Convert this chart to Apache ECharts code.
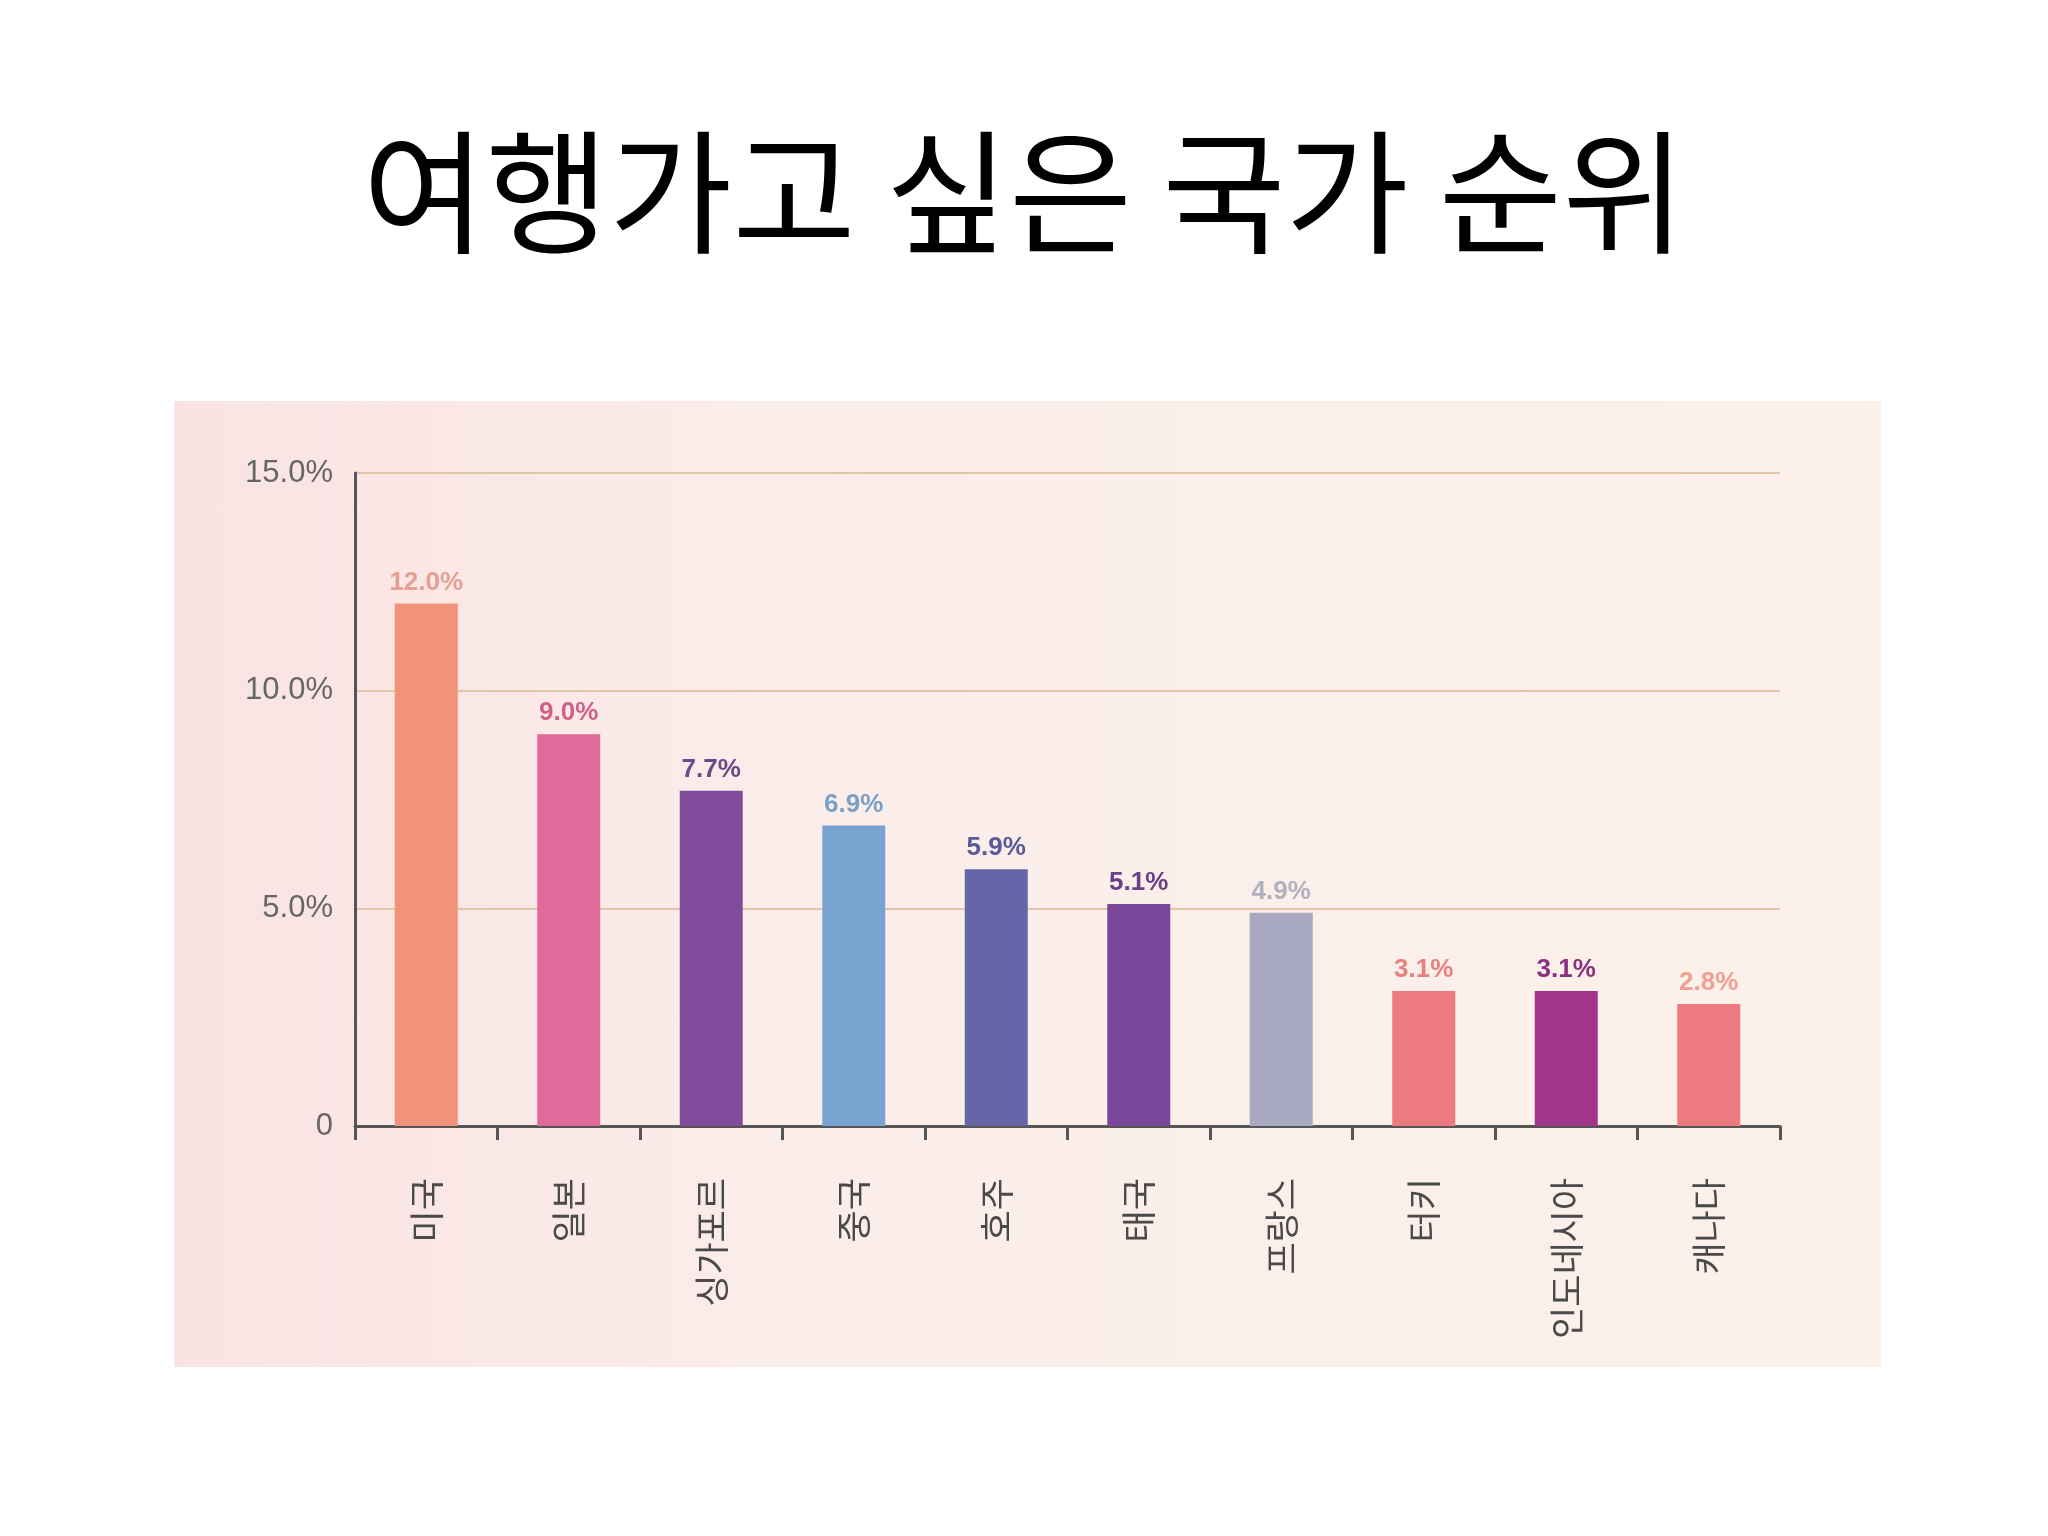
<!DOCTYPE html>
<html>
<head>
<meta charset="utf-8">
<script src="https://cdn.jsdelivr.net/npm/echarts@6/dist/echarts.min.js"></script>
<style>
html,body{margin:0;padding:0;background:#fff;}
#title{position:absolute;left:0;top:88px;width:2048px;text-align:center;font:134px "Noto Sans CJK KR",sans-serif;color:#000;}
#panel{position:absolute;left:174px;top:401px;width:1707px;height:966px;
 background:linear-gradient(90deg,#f9e3e3 0%,#fbeeea 40%,#fbf0ea 100%);}
#main{position:absolute;left:0;top:0;width:2048px;height:1536px;}
</style>
</head>
<body>
<div id="title">여행가고 싶은 국가 순위</div>
<div id="panel"></div>
<div id="main"></div>
<script>
var countries = ['미국','일본','싱가포르','중국','호주','태국','프랑스','터키','인도네시아','캐나다'];
var shares = [12.0, 9.0, 7.7, 6.9, 5.9, 5.1, 4.9, 3.1, 3.1, 2.8];
var barColors = ['#f0937a','#e06b9a','#7f4b9a','#78a3d0','#6565a8','#7a479a','#a8a8c0','#ec7a80','#a0358a','#ec7a80'];
var labelColors = ['#e4a090','#d0608a','#6a4a8a','#7aa0c8','#5a5a98','#6a3f8a','#b0b0c0','#e88080','#8a3080','#f0a090'];
var yTicks = [0, 5, 10, 15];

var myChart = echarts.init(document.getElementById('main'));
var option = {
	grid: {left: 355, right: 268, top: 473, bottom: 410},
	xAxis: {
		type: 'category',
		data: countries,
		axisLine: {lineStyle: {color: '#555', width: 3}},
		axisTick: {show: true, length: 14, lineStyle: {color: '#555', width: 3}},
		axisLabel: {rotate: 90, margin: 52, fontSize: 35, color: '#4a4a4a', fontFamily: 'Noto Sans CJK KR'}
	},
	yAxis: {
		type: 'value', min: 0, max: 15, interval: 5,
		axisLine: {show: true, lineStyle: {color: '#555', width: 3}},
		axisTick: {show: false},
		splitLine: {lineStyle: {color: '#e6c4a6', width: 2}},
		axisLabel: {
			fontSize: 31, color: '#666', margin: 22,
			formatter: function (v) { return yTicks.indexOf(v) >= 0 ? (v === 0 ? '0' : v.toFixed(1) + '%') : ''; }
		}
	},
	series: [{
		type: 'bar',
		barWidth: 63,
		data: shares.map(function (v, i) {
			return {
				value: v,
				itemStyle: {color: barColors[i]},
				label: {color: labelColors[i]}
			};
		}),
		label: {
			show: true, position: 'top', fontSize: 26, fontWeight: 'bold', distance: 8,
			formatter: function (p) { return p.value.toFixed(1) + '%'; }
		}
	}]
};
myChart.setOption(option);
</script>
</body>
</html>
